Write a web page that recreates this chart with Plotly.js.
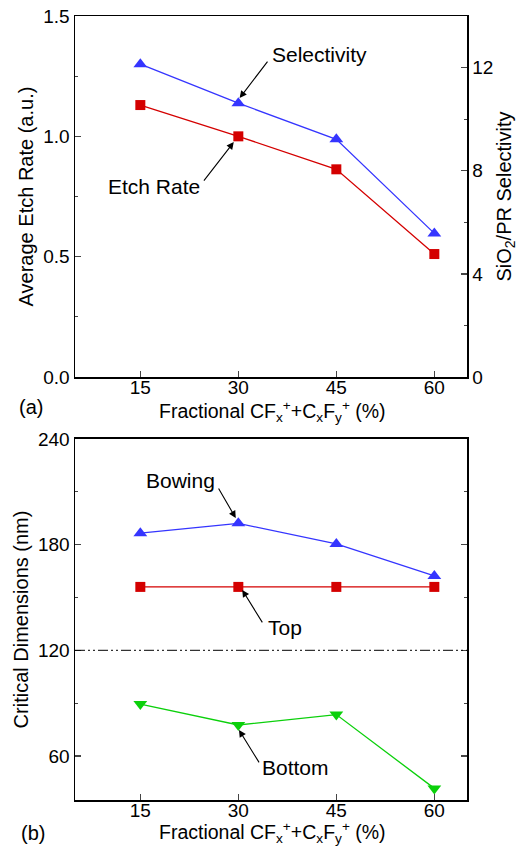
<!DOCTYPE html>
<html><head><meta charset="utf-8">
<script src="https://cdn.plot.ly/plotly-3.0.1.min.js"></script>
<style>html,body{margin:0;padding:0;background:#fff}#chart{width:527px;height:848px}</style>
</head><body><div id="chart"></div>
<script>
const fraction = [15, 30, 45, 60];
const etchRate = [1.13, 1.0, 0.863, 0.511];
const selectivity = [12.13, 10.62, 9.22, 5.57];
const bowingCD = [186.5, 192.1, 180.4, 162.2];
const topCD = [156, 156, 156, 156];
const bottomCD = [89.5, 77.6, 83.5, 41.6];
const referenceCD = 120;

const RED = '#d40000', BLUE = '#3535ff', GREEN = '#0bd00b';
const FONT = 'Liberation Sans, Arial, sans-serif';
const xTitle = 'Fractional CF<sub>x</sub><sup>+</sup>+C<sub>x</sub>F<sub>y</sub><sup>+</sup> (%)';

function line(x, y, color, symbol, size, xa, ya) {
  return {x: x, y: y, type: 'scatter', mode: 'lines+markers', xaxis: xa, yaxis: ya,
    line: {color: color, width: 1.3}, marker: {color: color, symbol: symbol, size: size}};
}

const traces = [
  line(fraction, etchRate, RED, 'square', 10, 'x', 'y'),
  line(fraction, selectivity, BLUE, 'triangle-up', 12, 'x', 'y2'),
  line(fraction, bowingCD, BLUE, 'triangle-up', 12, 'x2', 'y3'),
  line(fraction, topCD, RED, 'square', 10, 'x2', 'y3'),
  line(fraction, bottomCD, GREEN, 'triangle-down', 12, 'x2', 'y3')
];

const tickFont = {family: FONT, size: 19, color: '#000'};
const titleFont = {family: FONT, size: 20, color: '#000'};
const xTitleFont = {family: FONT, size: 19.5, color: '#000'};
const noteFont = {family: FONT, size: 21, color: '#000'};
const xBase = {range: [5, 65], tick0: 15, dtick: 15, ticks: 'inside', ticklen: 6, tickwidth: 1.3,
  showline: true, linewidth: 1.5, linecolor: '#000', mirror: true, showgrid: false, zeroline: false,
  tickfont: tickFont, ticklabelstandoff: -7};
const yBase = {ticks: 'inside', ticklen: 6, tickwidth: 1.3, showline: true, linewidth: 1.5, linecolor: '#000',
  showgrid: false, zeroline: false, tickfont: tickFont};

function arrow(x, y, ax, ay, xr, yr) {
  return {x: x, y: y, xref: xr, yref: yr, text: '', showarrow: true, ax: ax, ay: ay,
    arrowhead: 2, arrowsize: 1.3, arrowwidth: 1.1, arrowcolor: '#000'};
}
function label(x, y, t, xr, yr) {
  return {x: x, y: y, xref: xr, yref: yr, text: t, showarrow: false, font: noteFont};
}
function paperText(x, y, t, f) {
  return {x: x, y: y, xref: 'paper', yref: 'paper', text: t, showarrow: false, font: f || titleFont,
    xanchor: 'center', yanchor: 'middle'};
}

const layout = {
  width: 527, height: 848, showlegend: false,
  margin: {l: 75, r: 60, t: 16, b: 48},
  paper_bgcolor: '#fff', plot_bgcolor: '#fff',
  font: {family: FONT, color: '#000'},
  xaxis: Object.assign({}, xBase, {domain: [0, 1], anchor: 'y'}),
  xaxis2: Object.assign({}, xBase, {domain: [0, 1], anchor: 'y3'}),
  yaxis: Object.assign({}, yBase, {domain: [0.5395, 1], range: [0, 1.5], dtick: 0.5, tickformat: '.1f',
    minor: {dtick: 0.25, ticks: 'inside', ticklen: 3, tickwidth: 1.1},
    title: {text: 'Average Etch Rate (a.u.)', font: titleFont, standoff: 4}}),
  yaxis2: Object.assign({}, yBase, {overlaying: 'y', side: 'right', range: [0, 14], dtick: 4,
    minor: {dtick: 2, ticks: 'inside', ticklen: 3, tickwidth: 1.1},
    title: {text: 'SiO<sub>2</sub>/PR Selectivity', font: titleFont, standoff: 4}}),
  yaxis3: Object.assign({}, yBase, {domain: [0, 0.4605], anchor: 'x2', range: [35, 240], tick0: 60, dtick: 60,
    mirror: 'ticks', minor: {dtick: 30, ticks: 'inside', ticklen: 3, tickwidth: 1.1},
    title: {text: 'Critical Dimensions (nm)', font: titleFont, standoff: 4}}),
  shapes: [{type: 'line', xref: 'x2 domain', yref: 'y3', x0: 0, x1: 1, y0: referenceCD, y1: referenceCD,
    line: {color: '#000', width: 1, dash: '10px,3px,2px,3px,2px,3px'}}],
  annotations: [
    label(42.4, 1.338, 'Selectivity', 'x', 'y'),
    arrow(30.2, 1.159, 29, -38, 'x', 'y'),
    label(17.1, 0.793, 'Etch Rate', 'x', 'y'),
    arrow(29.3, 0.976, -31, 40, 'x', 'y'),
    label(21.1, 216.2, 'Bowing', 'x2', 'y3'),
    arrow(29.6, 195.1, -18, -31, 'x2', 'y3'),
    label(37.1, 133.2, 'Top', 'x2', 'y3'),
    arrow(30.6, 154.3, 21, 34, 'x2', 'y3'),
    label(38.8, 53.2, 'Bottom', 'x2', 'y3'),
    arrow(30.1, 74.8, 21, 34, 'x2', 'y3'),
    paperText(0.503, 0.4955, xTitle, xTitleFont),
    paperText(0.503, -0.0415, xTitle, xTitleFont),
    paperText(-0.112, 0.501, '(a)'),
    paperText(-0.107, -0.042, '(b)')
  ]
};

Plotly.newPlot('chart', traces, layout, {staticPlot: true, displayModeBar: false});
</script></body></html>
